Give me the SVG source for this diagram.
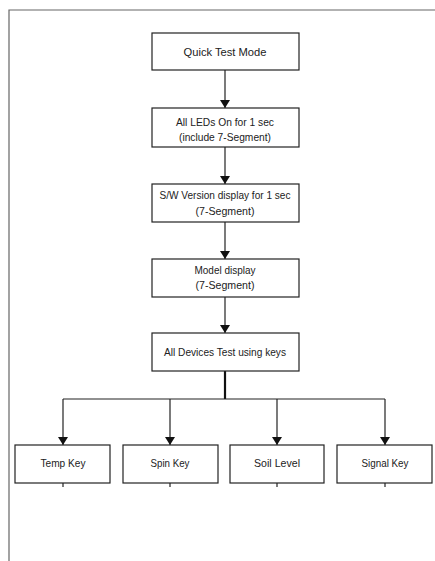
<svg xmlns="http://www.w3.org/2000/svg" width="435" height="561" viewBox="0 0 435 561">
<style>
.box{fill:#fff;stroke:#222;stroke-width:1.2}
.t{font-family:"Liberation Sans",Arial,sans-serif;font-size:11px;fill:#222;text-anchor:middle}
.ln{fill:none;stroke:#222;stroke-width:1.2}
.frame{fill:none;stroke:#666;stroke-width:1.2}
</style>
<defs>
<marker id="ah" viewBox="0 0 8 10" refX="8" refY="5" markerWidth="8" markerHeight="10" markerUnits="userSpaceOnUse" orient="auto"><path d="M0,0 L8,5 L0,10 z" fill="#111"/></marker>
</defs>
<rect width="435" height="561" fill="#fff"/>
<path class="frame" d="M9,561 V10 H435"/>
<g id="connectors">
<line class="ln" x1="225" y1="70" x2="225" y2="108" marker-end="url(#ah)"/>
<line class="ln" x1="225" y1="147" x2="225" y2="184" marker-end="url(#ah)"/>
<line class="ln" x1="225" y1="222" x2="225" y2="259" marker-end="url(#ah)"/>
<line class="ln" x1="225" y1="297" x2="225" y2="333" marker-end="url(#ah)"/>
<line x1="225" y1="371" x2="225" y2="399" stroke="#111" stroke-width="2.2"/>
<path class="ln" d="M63,399 H385"/>
<line class="ln" x1="63" y1="399" x2="63" y2="445" marker-end="url(#ah)"/>
<line class="ln" x1="170" y1="399" x2="170" y2="445" marker-end="url(#ah)"/>
<line class="ln" x1="277" y1="399" x2="277" y2="445" marker-end="url(#ah)"/>
<line class="ln" x1="385" y1="399" x2="385" y2="445" marker-end="url(#ah)"/>
<line class="ln" x1="63" y1="483" x2="63" y2="487"/>
<line class="ln" x1="170" y1="483" x2="170" y2="487"/>
<line class="ln" x1="277" y1="483" x2="277" y2="487"/>
<line class="ln" x1="385" y1="483" x2="385" y2="487"/>
</g>
<g id="n1"><rect class="box" x="152" y="33" width="147" height="37"/><text class="t" x="225" y="56" textLength="83" lengthAdjust="spacingAndGlyphs">Quick Test Mode</text></g>
<g id="n2"><rect class="box" x="152" y="108" width="147" height="39"/><text class="t" x="225" y="126" textLength="98" lengthAdjust="spacingAndGlyphs">All LEDs On for 1 sec</text><text class="t" x="225" y="141" textLength="92" lengthAdjust="spacingAndGlyphs">(include 7-Segment)</text></g>
<g id="n3"><rect class="box" x="152" y="184" width="147" height="38"/><text class="t" x="225" y="199" textLength="131" lengthAdjust="spacingAndGlyphs">S/W Version display for 1 sec</text><text class="t" x="225" y="215" textLength="59" lengthAdjust="spacingAndGlyphs">(7-Segment)</text></g>
<g id="n4"><rect class="box" x="152" y="259" width="147" height="38"/><text class="t" x="225" y="274" textLength="61" lengthAdjust="spacingAndGlyphs">Model display</text><text class="t" x="225" y="289" textLength="59" lengthAdjust="spacingAndGlyphs">(7-Segment)</text></g>
<g id="n5"><rect class="box" x="152" y="333" width="147" height="38"/><text class="t" x="225" y="356" textLength="122" lengthAdjust="spacingAndGlyphs">All Devices Test using keys</text></g>
<g id="k1"><rect class="box" x="15" y="445" width="95" height="38"/><text class="t" x="63" y="467" textLength="45" lengthAdjust="spacingAndGlyphs">Temp Key</text></g>
<g id="k2"><rect class="box" x="123" y="445" width="95" height="38"/><text class="t" x="170" y="467" textLength="39" lengthAdjust="spacingAndGlyphs">Spin Key</text></g>
<g id="k3"><rect class="box" x="230" y="445" width="94" height="38"/><text class="t" x="277" y="467" textLength="46" lengthAdjust="spacingAndGlyphs">Soil Level</text></g>
<g id="k4"><rect class="box" x="337" y="445" width="95" height="38"/><text class="t" x="385" y="467" textLength="47" lengthAdjust="spacingAndGlyphs">Signal Key</text></g>
</svg>
